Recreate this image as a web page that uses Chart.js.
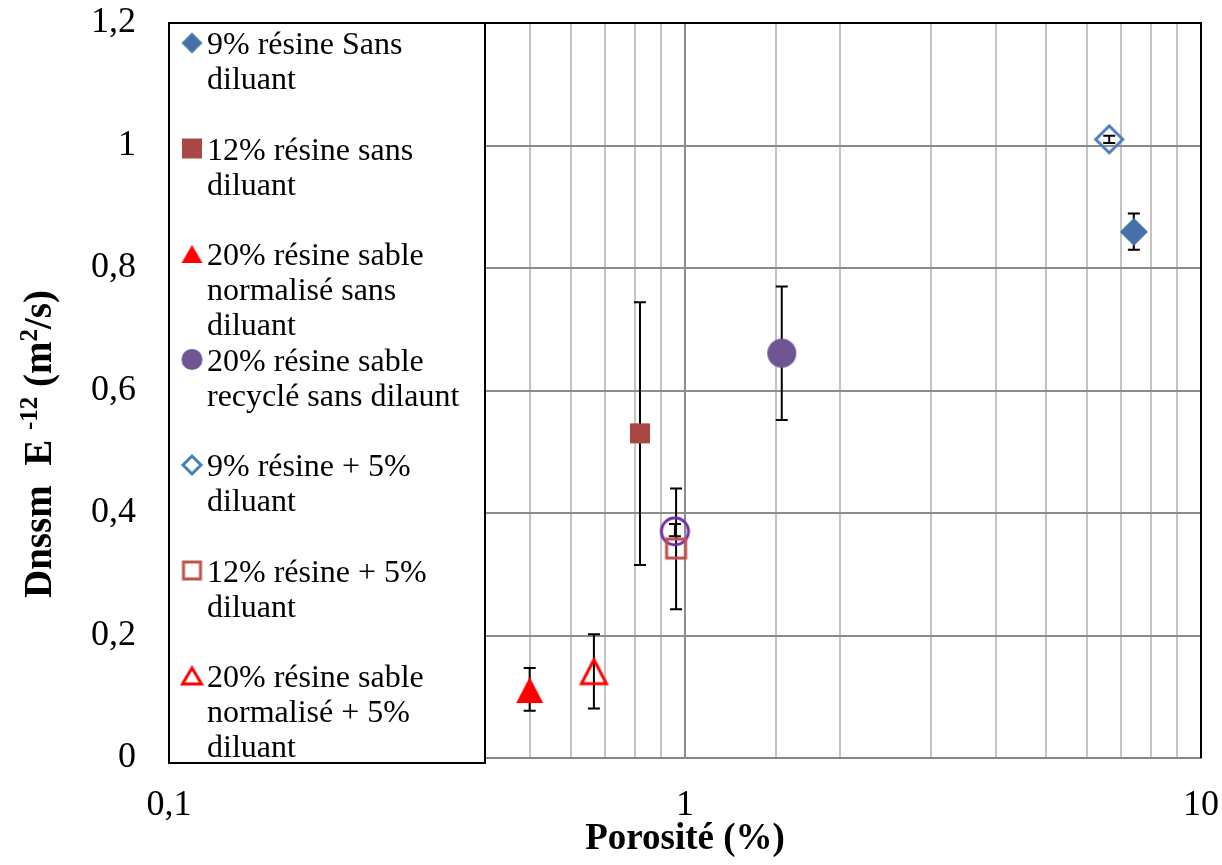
<!DOCTYPE html>
<html><head><meta charset="utf-8">
<script src="https://cdn.jsdelivr.net/npm/chart.js@4"></script>
<style>html,body{margin:0;padding:0;background:#fff}canvas{display:block}</style>
</head><body>
<canvas id="c" width="1222" height="865"></canvas>
<script>
// ---------- data ----------
const seriesLabels = [
  ["9% résine Sans", "diluant"],
  ["12% résine sans", "diluant"],
  ["20% résine sable", "normalisé sans", "diluant"],
  ["20% résine sable", "recyclé sans dilaunt"],
  ["9% résine + 5%", "diluant"],
  ["12% résine + 5%", "diluant"],
  ["20% résine sable", "normalisé + 5%", "diluant"],
  ["20% résine sable", "recyclé + 5%", "diluant"]
];
const porosity = [7.41, 0.818, 0.50, 1.54, 6.64, 0.961, 0.666, 0.956];
const dnssm    = [0.859, 0.530, 0.111, 0.661, 1.010, 0.342, 0.141, 0.370];
const errLow   = [0.830, 0.315, 0.077, 0.552, 1.004, 0.243, 0.081, 0.362];
const errHigh  = [0.889, 0.744, 0.147, 0.770, 1.016, 0.440, 0.202, 0.382];
const xTickValues = [0.1, 1, 10];
const xTickLabels = ["0,1", "1", "10"];
const yTickLabels = ["0", "0,2", "0,4", "0,6", "0,8", "1", "1,2"];
const xTitle = "Porosité (%)";
const legendCount = 7;

// ---------- styles ----------
const FONT = '"Liberation Serif", "Times New Roman", serif';
const shapes = ['diamond','square','triangle','circle','diamond','square','triangle','circle'];
const filled = [true,true,true,true,false,false,false,false];
const colors = ['#4571A8','#AA4643','#FF0000','#6F5592','#4A7EBB','#C0504D','#FF0000','#7030A0'];
const chartSizes = [
  {w:28,h:28},{w:20,h:20},{w:27,h:26},{w:29,h:29},
  {w:27,h:27},{w:19,h:19},{w:25,h:24},{w:27,h:27}
];
const legendSizes = [
  {w:21,h:21},{w:20,h:20},{w:21,h:18},{w:21,h:21},
  {w:18,h:18},{w:17,h:17},{w:19,h:16},{w:18,h:18}
];

function makeMarker(shape, size, color, isFilled) {
  const lw = isFilled ? 0 : 3;
  const pad = isFilled ? 1 : 3;
  const c = document.createElement('canvas');
  c.width = Math.ceil(size.w + 2 * pad);
  c.height = Math.ceil(size.h + 2 * pad);
  const g = c.getContext('2d');
  g.translate(c.width / 2, c.height / 2);
  const w = size.w, h = size.h;
  g.beginPath();
  if (shape === 'diamond') {
    g.moveTo(0, -h/2); g.lineTo(w/2, 0); g.lineTo(0, h/2); g.lineTo(-w/2, 0); g.closePath();
  } else if (shape === 'square') {
    g.rect(-w/2, -h/2, w, h);
  } else if (shape === 'triangle') {
    g.moveTo(0, -h/2); g.lineTo(w/2, h/2); g.lineTo(-w/2, h/2); g.closePath();
  } else {
    g.arc(0, 0, w/2, 0, Math.PI * 2);
  }
  if (isFilled) { g.fillStyle = color; g.fill(); }
  else { g.lineWidth = lw; g.strokeStyle = color; g.lineJoin = 'miter'; g.stroke(); }
  return c;
}

const chartMarkers = shapes.map((s, i) => makeMarker(s, chartSizes[i], colors[i], filled[i]));
const legendMarkers = shapes.map((s, i) => makeMarker(s, legendSizes[i], colors[i], filled[i]));

const datasets = porosity.map((x, i) => ({
  label: seriesLabels[i].join(' '),
  data: [{x: x, y: dnssm[i]}],
  pointStyle: chartMarkers[i],
  pointRadius: 14,
  showLine: false
}));

function isDecade(v) {
  const l = Math.log10(v);
  return Math.abs(l - Math.round(l)) < 1e-6;
}

const errorBars = {
  id: 'errorBars',
  beforeDatasetsDraw(chart) {
    const {ctx, scales: {x, y}} = chart;
    ctx.save();
    ctx.strokeStyle = '#000';
    ctx.lineWidth = 2;
    for (let i = 0; i < porosity.length; i++) {
      const px = x.getPixelForValue(porosity[i]);
      const y1 = y.getPixelForValue(errLow[i]);
      const y2 = y.getPixelForValue(errHigh[i]);
      ctx.beginPath();
      ctx.moveTo(px, y1); ctx.lineTo(px, y2);
      ctx.moveTo(px - 6, y1); ctx.lineTo(px + 6, y1);
      ctx.moveTo(px - 6, y2); ctx.lineTo(px + 6, y2);
      ctx.stroke();
    }
    ctx.restore();
  }
};

const decor = {
  id: 'decor',
  afterDraw(chart) {
    const {ctx, chartArea: a} = chart;
    ctx.save();
    // plot border top/right
    ctx.strokeStyle = '#000';
    ctx.lineWidth = 2;
    ctx.beginPath();
    ctx.moveTo(a.left, a.top); ctx.lineTo(a.right, a.top); ctx.lineTo(a.right, a.bottom);
    ctx.stroke();

    // legend box
    const lx = 169, ly = 23, lw = 316, lh = 740;
    ctx.fillStyle = '#fff';
    ctx.fillRect(lx, ly, lw, lh);
    ctx.strokeRect(lx, ly, lw, lh);
    ctx.font = '32px ' + FONT;
    ctx.fillStyle = '#000';
    ctx.textBaseline = 'alphabetic';
    ctx.textAlign = 'left';
    for (let i = 0; i < legendCount; i++) {
      const base = 54 + i * 105.5;
      const m = legendMarkers[i];
      ctx.drawImage(m, 192 - m.width / 2, base - 11 - m.height / 2);
      seriesLabels[i].forEach((line, k) => {
        ctx.fillText(line, 207, base + k * 35.2);
      });
    }

    // y axis title with superscripts
    const big = 'bold 39px ' + FONT, small = 'bold 25px ' + FONT;
    const parts = [
      {t: 'Dnssm  E ', f: big, r: 0},
      {t: '-12', f: small, r: 14},
      {t: ' (m', f: big, r: 0},
      {t: '2', f: small, r: 14},
      {t: '/s)', f: big, r: 0}
    ];
    let total = 0;
    parts.forEach(p => { ctx.font = p.f; p.w = ctx.measureText(p.t).width; total += p.w; });
    ctx.translate(51, 444);
    ctx.rotate(-Math.PI / 2);
    let cx = -total / 2;
    parts.forEach(p => {
      ctx.font = p.f;
      ctx.fillText(p.t, cx, -p.r);
      cx += p.w;
    });
    ctx.restore();
  }
};

new Chart(document.getElementById('c'), {
  type: 'scatter',
  data: {datasets},
  options: {
    responsive: false,
    animation: false,
    devicePixelRatio: 1,
    layout: {padding: {top: 23, right: 21, left: 0, bottom: 0}},
    plugins: {legend: {display: false}, tooltip: {enabled: false}},
    scales: {
      x: {
        type: 'logarithmic',
        min: 0.1, max: 10,
        position: 'bottom',
        afterFit: s => { s.height = 107; s.paddingLeft = 0; s.paddingRight = 0; s.paddingTop = 0; s.paddingBottom = 0; },
        border: {display: true, color: '#868686', width: 2},
        grid: {
          drawTicks: false,
          lineWidth: 2,
          color: c => (c.tick && isDecade(c.tick.value)) ? '#8c8c8c' : '#c4c4c4'
        },
        ticks: {
          autoSkip: false, maxRotation: 0, padding: 26, color: '#000',
          font: {family: FONT, size: 36},
          callback: v => {
            for (let k = 0; k < xTickValues.length; k++) {
              if (Math.abs(Math.log10(v) - Math.log10(xTickValues[k])) < 1e-6) return xTickLabels[k];
            }
            return '';
          }
        },
        title: {
          display: true, text: xTitle, color: '#000',
          font: {family: FONT, size: 37, weight: 'bold'},
          padding: {top: 0, bottom: 3}
        }
      },
      y: {
        min: 0, max: 1.2,
        afterFit: s => { s.width = 169; s.paddingLeft = 0; s.paddingRight = 0; s.paddingTop = 0; s.paddingBottom = 0; },
        border: {display: false},
        grid: {drawTicks: false, lineWidth: 2, color: '#8c8c8c'},
        ticks: {
          stepSize: 0.2, padding: 33, color: '#000',
          font: {family: FONT, size: 36},
          callback: (v, i) => yTickLabels[i]
        }
      }
    }
  },
  plugins: [errorBars, decor]
});
</script>
</body></html>
